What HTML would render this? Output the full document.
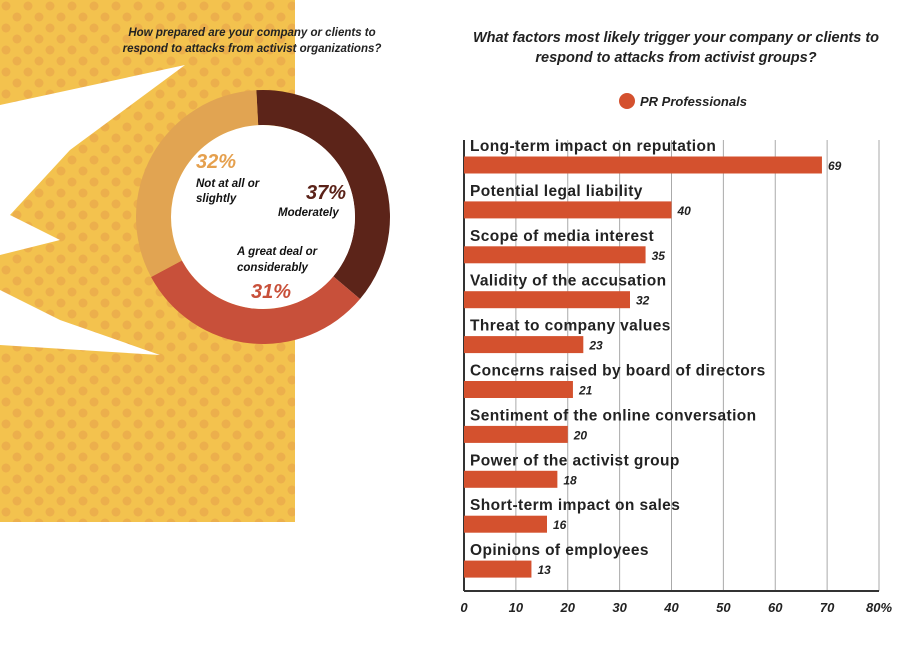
<!DOCTYPE html>
<html><head><meta charset="utf-8"><style>
html,body{margin:0;padding:0;background:#fff;}
body{width:908px;height:652px;overflow:hidden;font-family:"Liberation Sans",sans-serif;}
.cond{font-family:"Liberation Sans Narrow","Liberation Sans",sans-serif;font-weight:bold;font-style:italic;}
</style></head><body>
<svg width="908" height="652" viewBox="0 0 908 652" id="svg">
<defs>
<pattern id="dots" width="22" height="22" patternUnits="userSpaceOnUse">
<circle cx="6" cy="6" r="4.5" fill="#e7a24a"/><circle cx="17" cy="17" r="4.5" fill="#e7a24a"/>
</pattern>
</defs>
<g>
<rect x="0" y="0" width="295" height="522" fill="#f3c24e"/>
<rect x="0" y="0" width="295" height="522" fill="url(#dots)" opacity="0.6"/>
<polygon points="0,105 185,65 70,150 0,150" fill="#fff"/>
<polygon points="0,150 70,150 10,215 60,240 0,255" fill="#fff"/>
<polygon points="0,290 60,320 160,355 0,345" fill="#fff"/>
</g>
<text class="cond" x="252" y="36" font-size="11.5" fill="#222" text-anchor="middle">How prepared are your company or clients to</text>
<text class="cond" x="252" y="52" font-size="11.5" fill="#222" text-anchor="middle">respond to attacks from activist organizations?</text>
<g id="donut"></g>
<text class="cond" x="196" y="168" font-size="20" fill="#e5a04e">32%</text>
<text class="cond" x="196" y="187" font-size="11.5" fill="#111">Not at all or</text>
<text class="cond" x="196" y="202" font-size="11.5" fill="#111">slightly</text>
<text class="cond" x="306" y="199" font-size="20" fill="#5a2218">37%</text>
<text class="cond" x="278" y="216" font-size="11.5" fill="#111">Moderately</text>
<text class="cond" x="237" y="255" font-size="11.5" fill="#111">A great deal or</text>
<text class="cond" x="237" y="271" font-size="11.5" fill="#111">considerably</text>
<text class="cond" x="251" y="298" font-size="20" fill="#c8503a">31%</text>

<text class="cond" x="676" y="42" font-size="14.5" fill="#222" text-anchor="middle">What factors most likely trigger your company or clients to</text>
<text class="cond" x="676" y="62" font-size="14.5" fill="#222" text-anchor="middle">respond to attacks from activist groups?</text>
<circle cx="627" cy="101" r="8" fill="#d4512e"/>
<text class="cond" x="640" y="106" font-size="13" fill="#222">PR Professionals</text>
<g id="bars"></g>
</svg>
<script>
const donutLabels=["Moderately","A great deal or considerably","Not at all or slightly"];
const donutValues=[37,31,32];
const donutColors=["#5c2419","#c8503a","#e1a452"];
const categories=["Long-term impact on reputation","Potential legal liability","Scope of media interest","Validity of the accusation","Threat to company values","Concerns raised by board of directors","Sentiment of the online conversation","Power of the activist group","Short-term impact on sales","Opinions of employees"];
const values=[69,40,35,32,23,21,20,18,16,13];
const ticks=[0,10,20,30,40,50,60,70,80];
const NS="http://www.w3.org/2000/svg";
function mk(t,a,p){const e=document.createElementNS(NS,t);for(const k in a)e.setAttribute(k,a[k]);p.appendChild(e);return e;}
const dg=document.getElementById('donut');
const cx=263,cy=217,ro=127,ri=92;
let tot=donutValues.reduce((a,b)=>a+b,0),ang=-3*Math.PI/180;
donutValues.forEach((v,i)=>{
 const a0=ang,a1=ang+v/tot*2*Math.PI;ang=a1;
 const P=(r,a)=>[cx+r*Math.sin(a),cy-r*Math.cos(a)];
 const [x0,y0]=P(ro,a0),[x1,y1]=P(ro,a1),[x2,y2]=P(ri,a1),[x3,y3]=P(ri,a0);
 const lg=(a1-a0)>Math.PI?1:0;
 const p=mk('path',{d:`M${x0},${y0}A${ro},${ro} 0 ${lg} 1 ${x1},${y1}L${x2},${y2}A${ri},${ri} 0 ${lg} 0 ${x3},${y3}Z`,fill:donutColors[i]},dg);
 
 
});
const wc=mk('circle',{cx:cx,cy:cy,r:ri,fill:'#fff'},dg);


const g=document.getElementById('bars');
const x0=464,x1=879,yTop=140,yAxis=591,step=44.9,firstC=165,bh=17;
const xs=v=>x0+(v-ticks[0])/(ticks[ticks.length-1]-ticks[0])*(x1-x0);
ticks.forEach((t,i)=>{
 const gl=mk('line',{x1:xs(t),x2:xs(t),y1:yTop,y2:yAxis,stroke:i==0?'#333':'#aaa','stroke-width':i==0?2:1},g);
 
 
 const tl=mk('text',{x:xs(t),y:612,'font-size':13,fill:'#222','text-anchor':'middle',class:'cond'},g);
 tl.textContent=t+(i==ticks.length-1?'%':'');
 
 
});
const ax=mk('line',{x1:x0,x2:x1,y1:yAxis,y2:yAxis,stroke:'#333','stroke-width':2},g);


categories.forEach((c,i)=>{
 const yc=firstC+i*step;
 const lb=mk('text',{x:470,y:yc-14,'font-size':15.5,fill:'#222','font-weight':'bold','letter-spacing':'0.4'},g);
 lb.textContent=c;
 
 
 const r=mk('rect',{x:x0,y:yc-bh/2,width:xs(values[i])-x0,height:bh,fill:'#d4512e'},g);
 
 
 const vl=mk('text',{x:xs(values[i])+6,y:yc+5,'font-size':12,fill:'#222',class:'cond'},g);
 vl.textContent=values[i];
 
 
});
</script>
</body></html>
